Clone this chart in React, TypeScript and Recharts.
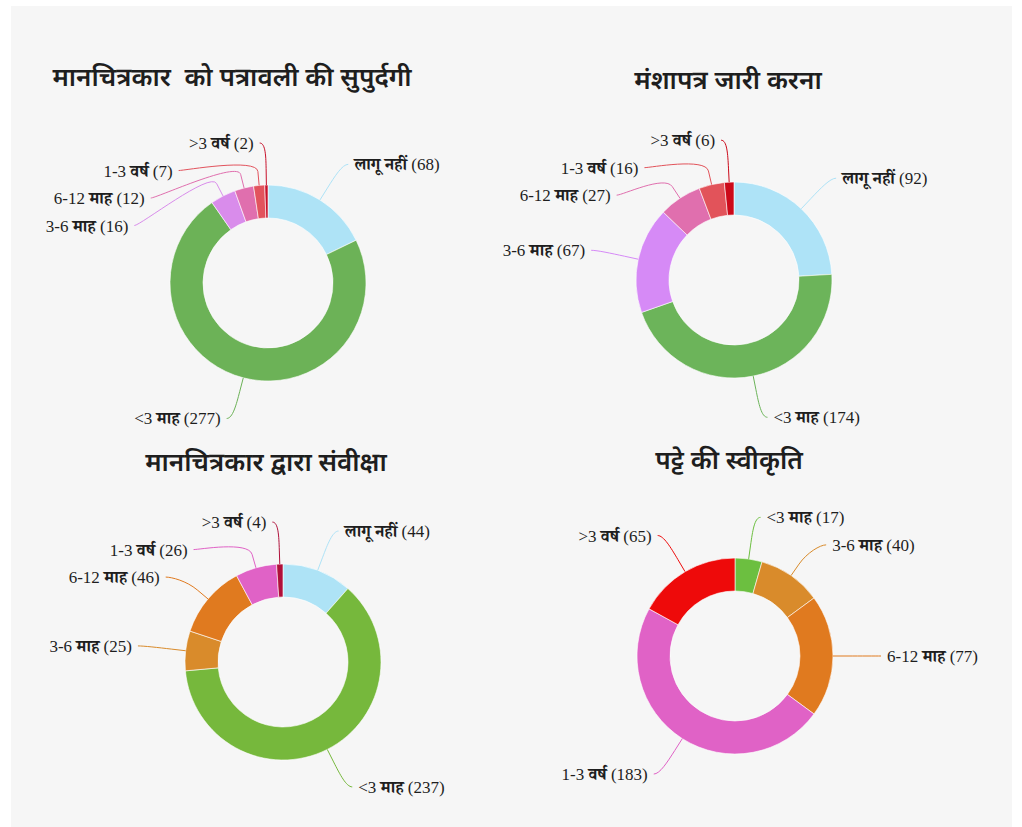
import { PieChart, Pie, Cell } from "recharts";

// chart 1
const titleA = "मानचित्रकार  को पत्रावली की सुपुर्दगी";
const namesA = ["लागू नहीं", "<3 माह", "3-6 माह", "6-12 माह", "1-3 वर्ष", ">3 वर्ष"];
const valuesA = [68, 277, 16, 12, 7, 2];
const colorsA = ["#aee3f6", "#6cb257", "#d98ceb", "#e06fae", "#e2535d", "#c8102a"];

// chart 2
const titleB = "मंशापत्र जारी करना";
const namesB = ["लागू नहीं", "<3 माह", "3-6 माह", "6-12 माह", "1-3 वर्ष", ">3 वर्ष"];
const valuesB = [92, 174, 67, 27, 16, 6];
const colorsB = ["#aee3f7", "#6cb45a", "#d68af6", "#e06fae", "#e2535a", "#cc0a1a"];

// chart 3
const titleC = "मानचित्रकार द्वारा संवीक्षा";
const namesC = ["लागू नहीं", "<3 माह", "3-6 माह", "6-12 माह", "1-3 वर्ष", ">3 वर्ष"];
const valuesC = [44, 237, 25, 46, 26, 4];
const colorsC = ["#aee3f6", "#76b83c", "#d98b2b", "#e07a1f", "#e062c6", "#b0103a"];

// chart 4
const titleD = "पट्टे की स्वीकृति";
const namesD = ["<3 माह", "3-6 माह", "6-12 माह", "1-3 वर्ष", ">3 वर्ष"];
const valuesD = [17, 40, 77, 183, 65];
const colorsD = ["#6cbf40", "#d98b2b", "#e07a1f", "#e062c6", "#ee0a0a"];

const charts = [
  { title: titleA, names: namesA, values: valuesA, colors: colorsA, left: 0, top: 100, cx: 268, cy: 183, titleX: 232, titleY: 80 },
  { title: titleB, names: namesB, values: valuesB, colors: colorsB, left: 470, top: 100, cx: 264, cy: 180, titleX: 728, titleY: 83 },
  { title: titleC, names: namesC, values: valuesC, colors: colorsC, left: 0, top: 480, cx: 283, cy: 182, titleX: 266, titleY: 465 },
  { title: titleD, names: namesD, values: valuesD, colors: colorsD, left: 470, top: 480, cx: 265, cy: 176, titleX: 729, titleY: 463 },
];

const LABEL_FONT = "'Liberation Serif', 'Noto Serif Devanagari', 'Noto Sans Devanagari', serif";
const TITLE_FONT = "'Noto Sans Devanagari', 'Noto Serif Devanagari', 'Liberation Serif', serif";

// place labels on a circle outside the ring, pushing overlapping ones down
function layoutLabels(values: number[], cx: number, cy: number, R: number) {
  const total = values.reduce((a, b) => a + b, 0);
  const dist = R + 42;
  let acc = 0;
  const items = values.map((v, i) => {
    const mid = ((acc + v / 2) / total) * 360;
    acc += v;
    const rad = (mid * Math.PI) / 180;
    const sx = Math.sin(rad);
    const sy = -Math.cos(rad);
    return { i, left: mid > 180, sx, sy, x: 0, y: cy + dist * sy };
  });
  [true, false].forEach((side) => {
    const group = items.filter((d) => d.left === side).sort((a, b) => a.y - b.y);
    for (let k = 1; k < group.length; k++) {
      if (group[k].y < group[k - 1].y + 27.5) group[k].y = group[k - 1].y + 27.5;
    }
  });
  items.forEach((d) => {
    const dy = d.y - cy;
    const dx = Math.sqrt(Math.max(0, dist * dist - dy * dy));
    d.x = cx + (d.left ? -dx : dx);
  });
  return items;
}

const makeLabel = (names: string[], values: number[], colors: string[]) => (props: any) => {
  const { cx, cy, outerRadius, index } = props;
  const items = layoutLabels(values, cx, cy, outerRadius);
  const d = items[index];
  const tx0 = cx + outerRadius * d.sx;
  const ty0 = cy + outerRadius * d.sy;
  const bx = cx + (outerRadius + 14) * d.sx;
  const by = cy + (outerRadius + 14) * d.sy;
  const start = d.x + (d.left ? -6 : 6);
  const path = `M${start},${d.y} C${d.x},${d.y} ${2 * bx - tx0},${2 * by - ty0} ${bx},${by} L${tx0},${ty0}`;
  const m = names[index].match(/^([^\u0900-\u097F]*)(.*)$/) || ["", "", names[index]];
  return (
    <g key={"lbl" + index}>
      <path d={path} stroke={colors[index]} strokeWidth={1} fill="none" />
      <text
        x={d.x + (d.left ? -12 : 12)}
        y={d.y}
        textAnchor={d.left ? "end" : "start"}
        dominantBaseline="central"
        fontSize={17}
        fontFamily={LABEL_FONT}
        fill="#1e1e1e"
      >
        {m[1] ? <tspan>{m[1]}</tspan> : null}
        <tspan fontWeight="bold">{m[2]}</tspan>
        <tspan> ({values[index]})</tspan>
      </text>
    </g>
  );
};

export default function App() {
  return (
    <div style={{ position: "absolute", left: 0, top: 0, width: 1022, height: 827, background: "#fff", overflow: "hidden" }}>
      <div style={{ position: "absolute", left: 11, top: 6, width: 1001, height: 821, background: "#f6f6f6" }} />
      {charts.map((c, ci) => {
        const data = c.names.map((n, i) => ({ name: n, value: c.values[i] }));
        return (
          <div key={ci}>
            <div
              style={{
                position: "absolute",
                left: c.titleX - 250,
                top: c.titleY - 20,
                width: 500,
                height: 40,
                lineHeight: "40px",
                textAlign: "center",
                fontFamily: TITLE_FONT,
                fontSize: 26,
                fontWeight: 600,
                color: "#1e1e1e",
                whiteSpace: "pre",
              }}
            >
              {c.title}
            </div>
            <div style={{ position: "absolute", left: c.left, top: c.top }}>
              <PieChart width={540} height={345} margin={{ top: 0, right: 0, bottom: 0, left: 0 }}>
                <Pie
                  data={data}
                  dataKey="value"
                  nameKey="name"
                  cx={c.cx}
                  cy={c.cy}
                  innerRadius={65}
                  outerRadius={98}
                  startAngle={90}
                  endAngle={-270}
                  stroke="#ffffff"
                  strokeWidth={0.6}
                  label={makeLabel(c.names, c.values, c.colors)}
                  labelLine={false}
                  isAnimationActive={false}
                >
                  {data.map((_, i) => (
                    <Cell key={i} fill={c.colors[i]} />
                  ))}
                </Pie>
              </PieChart>
            </div>
          </div>
        );
      })}
    </div>
  );
}
